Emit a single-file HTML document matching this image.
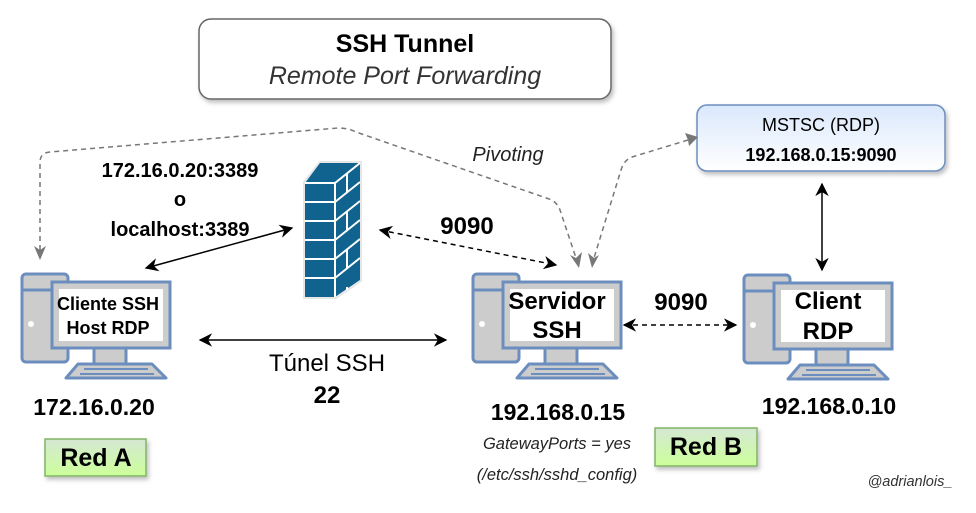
<!DOCTYPE html>
<html><head><meta charset="utf-8"><style>
html,body{margin:0;padding:0;background:#fff;}
svg{display:block;font-family:"Liberation Sans",Arial,sans-serif;}
</style></head><body>
<svg width="976" height="513" viewBox="0 0 976 513" xmlns="http://www.w3.org/2000/svg">
<defs>
<linearGradient id="bl" x1="0" y1="0" x2="0" y2="1"><stop offset="0" stop-color="#dae8fc"/><stop offset="1" stop-color="#ffffff"/></linearGradient>
<linearGradient id="gr" x1="0" y1="0" x2="0" y2="1"><stop offset="0" stop-color="#d5e8d4"/><stop offset="1" stop-color="#ccff99"/></linearGradient>
<filter id="sh" x="-10%" y="-10%" width="130%" height="140%"><feDropShadow dx="2" dy="3" stdDeviation="2" flood-color="#000" flood-opacity="0.25"/></filter>
<marker id="ab" viewBox="0 0 10 10" refX="9" refY="5" markerWidth="9" markerHeight="9" orient="auto-start-reverse"><path d="M0,0 L10,5 L0,10 L3,5z" fill="#000"/></marker>
<g id="pc">
<rect x="0" y="0" width="46" height="88" rx="4" fill="#ccc" stroke="#6c8ebf" stroke-width="3"/>
<line x1="0" y1="16" x2="46" y2="16" stroke="#6c8ebf" stroke-width="3"/>
<circle cx="9" cy="50" r="3" fill="#fff"/>
<rect x="72" y="74" width="32" height="16" fill="#ccc" stroke="#6c8ebf" stroke-width="3"/>
<rect x="30" y="8" width="118" height="66" fill="#ccc" stroke="#6c8ebf" stroke-width="3"/>
<rect x="37" y="15" width="104" height="52" fill="#fff"/>
<polygon points="56,90 130,90 144,104 44,104" fill="#ccc" stroke="#6c8ebf" stroke-width="3" stroke-linejoin="round"/>
<line x1="62" y1="95" x2="126" y2="95" stroke="#6c8ebf" stroke-width="2"/>
<line x1="58" y1="100" x2="132" y2="100" stroke="#6c8ebf" stroke-width="2"/>
</g>
</defs>

<rect x="199" y="19" width="412" height="80" rx="12" fill="#fff" stroke="#666" stroke-width="1.5" filter="url(#sh)"/>
<text x="405" y="52" text-anchor="middle" font-size="25" font-weight="bold">SSH Tunnel</text>
<text x="405" y="84" text-anchor="middle" font-size="25" font-style="italic" fill="#333">Remote Port Forwarding</text>

<rect x="697" y="105" width="248" height="66" rx="10" fill="url(#bl)" stroke="#6c8ebf" stroke-width="1.5" filter="url(#sh)"/>
<text x="821" y="131" text-anchor="middle" font-size="18">MSTSC (RDP)</text>
<text x="821" y="161" text-anchor="middle" font-size="18" font-weight="bold">192.168.0.15:9090</text>

<g fill="none" stroke="#777" stroke-width="1.5" stroke-dasharray="5,4">
<path d="M40,250 L40,162 Q40,153 50,152 L338,128 Q348,128 356,132 L552,200 Q558,204 560,210 L576,258"/>
<path d="M688,140 L632,157 Q624,160 621,170 L594,258"/>
</g>
<g fill="#777">
<polygon points="40,260 34,246 40,250 46,246"/>
<polygon points="579,268 570,255 576,258 582,252"/>
<polygon points="592,268 588,253 594,258 599,255"/>
<polygon points="698,137 685,133 688,140 689,146"/>
</g>
<line x1="146" y1="268" x2="292" y2="228" stroke="#000" stroke-width="1.5" marker-start="url(#ab)" marker-end="url(#ab)"/>
<line x1="380" y1="230" x2="556" y2="265" stroke="#000" stroke-width="1.5" stroke-dasharray="5,4" marker-start="url(#ab)" marker-end="url(#ab)"/>
<line x1="200" y1="340" x2="446" y2="340" stroke="#000" stroke-width="1.5" marker-start="url(#ab)" marker-end="url(#ab)"/>
<line x1="624" y1="325" x2="736" y2="325" stroke="#000" stroke-width="1.5" stroke-dasharray="5,4" marker-start="url(#ab)" marker-end="url(#ab)"/>
<line x1="822" y1="184" x2="822" y2="270" stroke="#000" stroke-width="1.5" marker-start="url(#ab)" marker-end="url(#ab)"/>

<g>
<polygon points="304,182 320,162 361,162 361,281 336,298 304,298" fill="#fff" stroke="#e6e6e6" stroke-width="2"/>
<polygon points="305,183 320,163 360,163 335,183" fill="#10628f"/>
<polygon points="335,183 360,163 360,280 335,297" fill="#10628f"/>
<rect x="305" y="183" width="30" height="114" fill="#10628f"/>
<g stroke="#fff" stroke-width="2">
<line x1="305" y1="183" x2="335" y2="183"/><line x1="335" y1="183" x2="360" y2="163"/><line x1="335" y1="183" x2="335" y2="297"/>
<line x1="305" y1="202" x2="335" y2="202"/><line x1="305" y1="221" x2="335" y2="221"/><line x1="305" y1="240" x2="335" y2="240"/><line x1="305" y1="259" x2="335" y2="259"/><line x1="305" y1="278" x2="335" y2="278"/>
<line x1="335" y1="202" x2="360" y2="182"/><line x1="335" y1="221" x2="360" y2="201"/><line x1="335" y1="240" x2="360" y2="220"/><line x1="335" y1="259" x2="360" y2="239"/><line x1="335" y1="278" x2="360" y2="258"/>
<line x1="347" y1="173" x2="347" y2="192"/><line x1="347" y1="211" x2="347" y2="230"/><line x1="347" y1="249" x2="347" y2="268"/><line x1="347" y1="287" x2="347" y2="290"/>
</g>
</g>

<use href="#pc" x="22" y="274"/>
<use href="#pc" x="473" y="274"/>
<use href="#pc" x="744" y="275"/>

<text x="108" y="310" text-anchor="middle" font-size="18" font-weight="bold">Cliente SSH</text>
<text x="108" y="334" text-anchor="middle" font-size="18" font-weight="bold">Host RDP</text>
<text x="557" y="309" text-anchor="middle" font-size="24" font-weight="bold">Servidor</text>
<text x="557" y="338" text-anchor="middle" font-size="24" font-weight="bold">SSH</text>
<text x="828" y="309" text-anchor="middle" font-size="24" font-weight="bold">Client</text>
<text x="828" y="339" text-anchor="middle" font-size="24" font-weight="bold">RDP</text>

<text x="180" y="177" text-anchor="middle" font-size="20" font-weight="bold">172.16.0.20:3389</text>
<text x="180" y="206" text-anchor="middle" font-size="20" font-weight="bold">o</text>
<text x="180" y="236" text-anchor="middle" font-size="20" font-weight="bold">localhost:3389</text>
<text x="508" y="161" text-anchor="middle" font-size="20" font-style="italic" fill="#222">Pivoting</text>
<text x="467" y="234" text-anchor="middle" font-size="24" font-weight="bold">9090</text>
<text x="681" y="310" text-anchor="middle" font-size="24" font-weight="bold">9090</text>
<text x="327" y="371" text-anchor="middle" font-size="24">Túnel SSH</text>
<text x="327" y="403" text-anchor="middle" font-size="24" font-weight="bold">22</text>

<text x="94" y="415" text-anchor="middle" font-size="23" font-weight="bold">172.16.0.20</text>
<text x="558" y="420" text-anchor="middle" font-size="23" font-weight="bold">192.168.0.15</text>
<text x="829" y="414" text-anchor="middle" font-size="23" font-weight="bold">192.168.0.10</text>
<text x="557" y="449" text-anchor="middle" font-size="16.5" font-style="italic" fill="#222">GatewayPorts = yes</text>
<text x="557" y="480" text-anchor="middle" font-size="16.5" font-style="italic" fill="#222">(/etc/ssh/sshd_config)</text>
<text x="910" y="486" text-anchor="middle" font-size="14.5" font-style="italic" fill="#333">@adrianlois_</text>

<rect x="45" y="439" width="101" height="37" fill="url(#gr)" stroke="#82b366" stroke-width="1.5" filter="url(#sh)"/>
<text x="96" y="466" text-anchor="middle" font-size="25" font-weight="bold">Red A</text>
<rect x="655" y="428" width="102" height="38" fill="url(#gr)" stroke="#82b366" stroke-width="1.5" filter="url(#sh)"/>
<text x="706" y="455" text-anchor="middle" font-size="25" font-weight="bold">Red B</text>
</svg>
</body></html>
